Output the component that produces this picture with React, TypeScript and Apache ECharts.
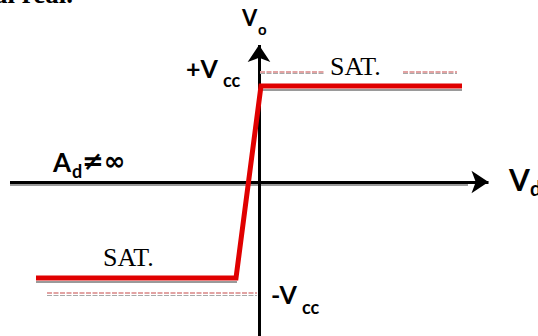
import React, { useEffect, useRef } from "react";
import * as echarts from "echarts";

// Transfer characteristic V_o = f(V_d), V_cc normalised to 1
const transferVd = [-22.3, -2.3, 0.2, 20.3];
const transferVo = [-1, -1, 1, 1];
// visible window of the plane
const xRange = [-25.9, 27.9];
const yRange = [-1.604, 1.896];
// axes (Vd axis, Vo axis) drawn as arrows
const vdAxis = [-24.9, 22.95];
const voAxis = [-1.7, 1.427];
// saturation reference dashes
const topDashes = [[0.1, 6.6], [14.4, 19.8]];
const bottomDashes = [[-21.2, -0.2]];
const dashLevel = [1.15, -1.156];

export default function App() {
  const ref = useRef<HTMLDivElement>(null);
  useEffect(() => {
    if (!ref.current) return;
    const chart = echarts.init(ref.current, null, { renderer: "svg" });
    const sans = 'Lato, "DejaVu Sans", sans-serif';
    const serif = '"Liberation Serif", serif';
    const txt = (x: number, y: number, text: string, size: number, family: string, weight = "bold") => ({
      type: "text",
      x,
      y,
      style: {
        text,
        fill: "#000",
        font: `${weight} ${size}px ${family}`,
        align: "left",
        verticalAlign: "middle",
      },
    });
    const pts = transferVd.map((x, i) => [x, transferVo[i]]);
    const greyOff = 0.04;
    chart.setOption({
      animation: false,
      grid: { left: 0, right: 0, top: 0, bottom: 0, containLabel: false },
      xAxis: { type: "value", min: xRange[0], max: xRange[1], show: false },
      yAxis: { type: "value", min: yRange[0], max: yRange[1], show: false },
      series: [
        {
          type: "lines",
          coordinateSystem: "cartesian2d",
          silent: true,
          lineStyle: { color: "#9a9a9a", width: 2, opacity: 1 },
          data: [
            { coords: [[vdAxis[0], -0.026], [20.9, -0.026]] },
            { coords: [[pts[0][0], pts[0][1] - greyOff], [pts[1][0] + 0.1, pts[1][1] - greyOff]] },
            { coords: [[pts[2][0], pts[2][1] - greyOff], [pts[3][0], pts[3][1] - greyOff]] },
          ],
        },
        {
          type: "lines",
          coordinateSystem: "cartesian2d",
          silent: true,
          symbol: ["none", "arrow"],
          symbolSize: [15, 17],
          lineStyle: { color: "#000", width: 3, opacity: 1 },
          data: [
            { coords: [[vdAxis[0], 0], [vdAxis[1], 0]] },
            { coords: [[0, voAxis[0]], [0, voAxis[1]]] },
          ],
        },
        {
          type: "lines",
          coordinateSystem: "cartesian2d",
          silent: true,
          lineStyle: { color: "#e2a3a3", width: 2, type: [5, 1.5], opacity: 1 },
          data: [
            ...topDashes.map((s) => ({ coords: [[s[0], dashLevel[0]], [s[1], dashLevel[0]]] })),
            ...bottomDashes.map((s) => ({ coords: [[s[0], dashLevel[1]], [s[1], dashLevel[1]]] })),
          ],
        },
        {
          type: "lines",
          coordinateSystem: "cartesian2d",
          silent: true,
          lineStyle: { color: "#a8a8a8", width: 1, type: [5, 1.5], opacity: 1 },
          data: [
            ...topDashes.map((s) => ({ coords: [[s[0], dashLevel[0] - 0.022], [s[1], dashLevel[0] - 0.022]] })),
            ...bottomDashes.map((s) => ({ coords: [[s[0], dashLevel[1] - 0.022], [s[1], dashLevel[1] - 0.022]] })),
          ],
        },
        {
          type: "line",
          data: pts,
          symbol: "none",
          silent: true,
          lineStyle: { color: "#e00000", width: 5, join: "miter", cap: "butt" },
        },
      ],
      graphic: [
        txt(-6, -6.5, "al real.", 27, serif, "bold"),
        txt(242, 17.5, "V", 22, sans),
        txt(258, 28.5, "o", 15, sans),
        txt(186, 68, "+V", 25, sans),
        txt(223, 80, "cc", 18, sans),
        txt(271, 294, "-V", 25, sans),
        txt(302, 307, "cc", 18, sans),
        txt(53, 161.5, "A", 26, sans),
        txt(72, 171, "d", 18, sans),
        txt(82, 161, "≠∞", 26, '"DejaVu Sans", sans-serif', "bold"),
        txt(509, 179, "V", 30, sans),
        txt(530, 188, "d", 20, sans),
        txt(330, 66, "SAT.", 26, serif, "normal"),
        txt(103, 257.5, "SAT.", 26, serif, "normal"),
      ],
    });
    return () => chart.dispose();
  }, []);
  return (
    <div
      ref={ref}
      style={{ position: "absolute", left: 0, top: 0, width: 538, height: 336, background: "#fff" }}
    />
  );
}
